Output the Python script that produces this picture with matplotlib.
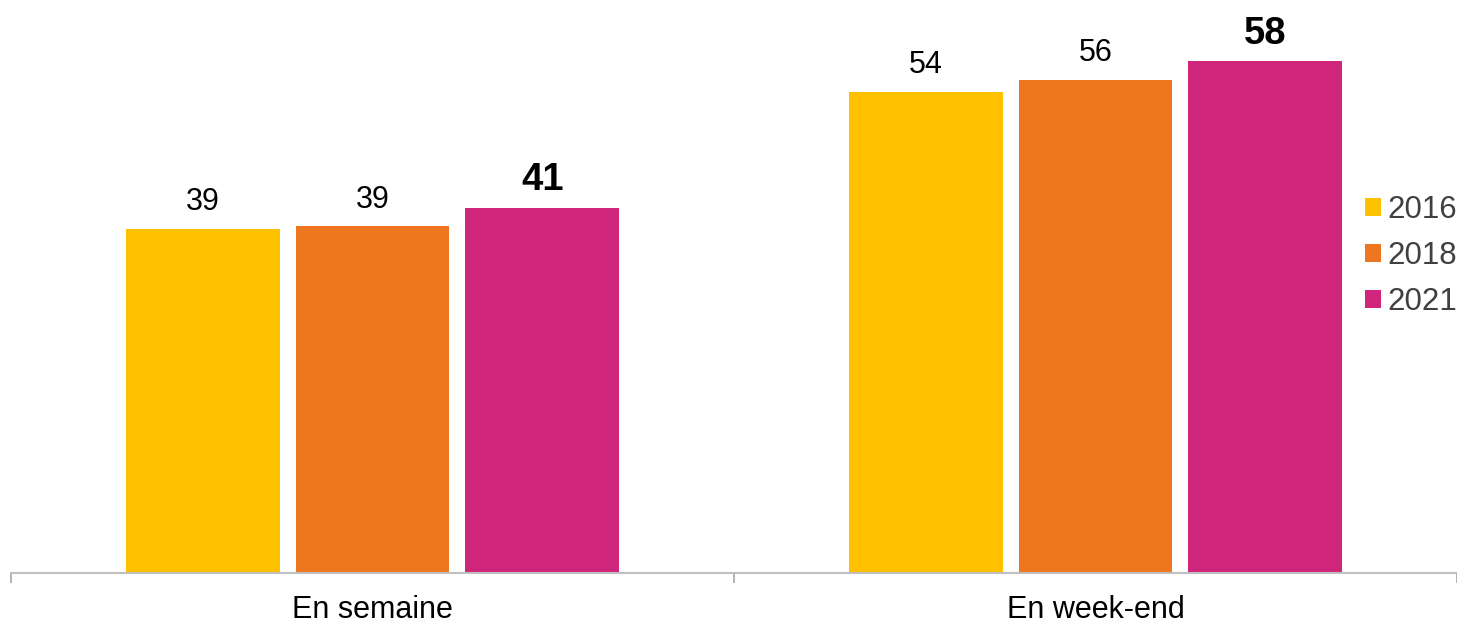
import matplotlib.pyplot as plt
import numpy as np

plt.rcParams['font.family'] = ['Liberation Sans', 'DejaVu Sans']

categories = ['En semaine', 'En week-end']
years = ['2016', '2018', '2021']
values = {
    '2016': [38.9, 54.4],
    '2018': [39.2, 55.8],
    '2021': [41.3, 57.9],
}
colors = {'2016': '#FFC000', '2018': '#EE761E', '2021': '#CF267B'}

fig = plt.figure(figsize=(14.57, 6.25), dpi=100)
ax = fig.add_axes([11 / 1457, 1 - 573 / 625, 1 - 11 / 1457, 573 / 625])

x = np.arange(len(categories))
width = 0.213
step = 0.235
for i, yr in enumerate(years):
    pos = x + (i - 1) * step
    bars = ax.bar(pos, values[yr], width, color=colors[yr], label=yr, zorder=2)
    for b, v in zip(bars, values[yr]):
        last = yr == years[-1]
        ax.annotate(str(int(round(v))), (b.get_x() + b.get_width() / 2, b.get_height()),
                    xytext=(0, 12.5 if last else 13.5), textcoords='offset points',
                    ha='center', va='baseline',
                    fontsize=27.5 if last else 22,
                    fontweight='bold' if last else 'normal', color='black')

ax.set_xlim(-0.5, 1.5)
ax.set_ylim(0, 64.8)
ax.set_yticks([])
for s in ['left', 'right', 'top']:
    ax.spines[s].set_visible(False)
ax.spines['bottom'].set_color('#BFBFBF')
ax.spines['bottom'].set_linewidth(1.5)

ax.set_xticks(x)
ax.set_xticklabels(categories, fontsize=22)
ax.tick_params(axis='x', which='major', length=0, pad=16)
ax.set_xticks([-0.5, 0.5, 1.5], minor=True)
ax.tick_params(axis='x', which='minor', length=7, width=1.2, color='#A6A6A6')

leg = fig.legend(loc='center left', bbox_to_anchor=(1365 / 1457, 1 - 256 / 625),
                 frameon=False, fontsize=22.5, handlelength=0.51, handleheight=0.51,
                 handletextpad=0.22, labelspacing=0.52, borderpad=0, borderaxespad=0)
for t in leg.get_texts():
    t.set_color('#404040')

fig.savefig('out.png', dpi=100)
